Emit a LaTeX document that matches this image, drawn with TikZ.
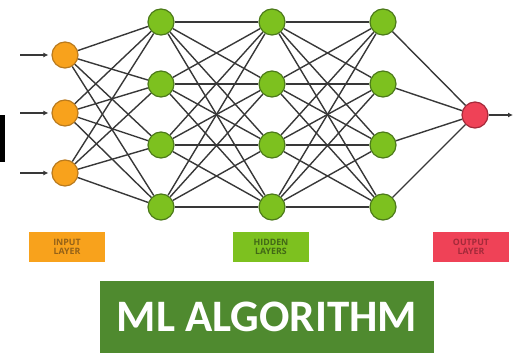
\documentclass[tikz,border=0pt]{standalone}
\usepackage{fontspec}
\setmainfont{Carlito}
\newfontfamily\tagfont{Open Sans}
\usetikzlibrary{arrows.meta}

\definecolor{inorange}{HTML}{F8A21C}
\definecolor{inedge}{HTML}{B97A1E}
\definecolor{hidgreen}{HTML}{7DC11F}
\definecolor{hidedge}{HTML}{4C7A1A}
\definecolor{outred}{HTML}{EF4257}
\definecolor{outedge}{HTML}{A32A3A}
\definecolor{banner}{HTML}{4F8A2F}
\definecolor{wiregray}{HTML}{383838}

\begin{document}
\begin{tikzpicture}[x=1pt,y=-1pt,
  neuron/.style={circle,line width=1.2pt,minimum size=26pt,inner sep=0pt},
  wire/.style={draw=wiregray,line width=1.4pt},
  feed/.style={wire,-{Latex[length=5pt,width=5pt]},shorten >=3pt},
  tag/.style={minimum width=76pt,minimum height=30pt,inner sep=0pt,
    align=center,font=\tagfont\bfseries\fontsize{8.8}{9.6}\selectfont}]

\useasboundingbox (0,0) rectangle (513,355);

% layers
\foreach \i/\y in {1/55,2/113,3/173}
  \node[neuron,fill=inorange,draw=inedge] (i\i) at (65,\y) {};

\foreach \l/\x in {1/161,2/272,3/383}{
\foreach \j/\y in {1/22,2/84,3/145,4/207}
  \node[neuron,fill=hidgreen,draw=hidedge] (h\l\j) at (\x,\y) {};
}

\node[neuron,fill=outred,draw=outedge] (o) at (475,115) {};

% connections
\foreach \i in {1,2,3}
\foreach \j in {1,...,4}
  \draw[wire] (i\i) -- (h1\j);

\foreach \j in {1,...,4}
\foreach \k in {1,...,4}{
  \draw[wire] (h1\j) -- (h2\k);
  \draw[wire] (h2\j) -- (h3\k);
}

\foreach \j in {1,...,4}
  \draw[wire] (h3\j) -- (o);

% inputs and output
\foreach \i/\y in {1/55,2/113,3/173}{
\coordinate (a\i) at (20,\y);
\draw[feed] (a\i) -- (i\i);
}
\coordinate (res) at (513,115);
\draw[feed,shorten >=0pt] (o) -- (res);

\fill (0,115) rectangle (5,162);

% labels
\node[tag,fill=inorange,text=inedge!80!black] (inlab) at (67,247) {INPUT\\LAYER};
\node[tag,fill=hidgreen,text=hidedge!85!black] (hidlab) at (271,247) {HIDDEN\\LAYERS};
\node[tag,fill=outred,text=outedge] (outlab) at (471,247) {OUTPUT\\LAYER};

\node[fill=banner,minimum width=334pt,minimum height=72pt,text=white,
  font=\bfseries\fontsize{45}{45}\selectfont] (algo) at (267,317) {ML ALGORITHM};
\end{tikzpicture}
\end{document}
